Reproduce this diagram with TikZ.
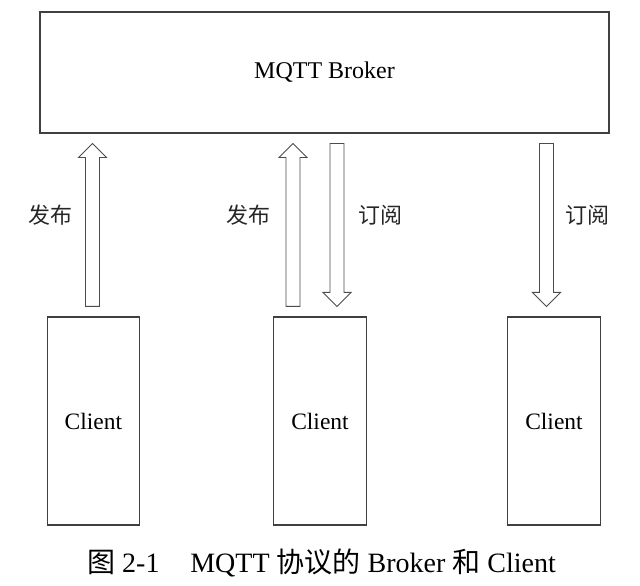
\documentclass[tikz,border=0pt]{standalone}
\usepackage{fontspec}
\setmainfont{Liberation Serif}
\newfontfamily\cjk{Noto Sans CJK SC}
\usetikzlibrary{calc, positioning}

\tikzset{
  box/.style={draw=black!75, line width=1.1pt, inner sep=0pt},
  client/.style={box, minimum width=92.5pt, minimum height=208pt, font=\fontsize{23.5}{27}\selectfont},
  hollow/.style={draw=black!70, line width=0.9pt, fill=white, line join=miter},
  lbl/.style={font=\cjk\fontsize{22}{26}\selectfont, text=black!85},
}

% hollow block arrow from #1 to #2 (vertical)
\newcommand{\hollowarrow}[2]{%
  \draw[hollow] let \p1=(#1), \p2=(#2), \n1={sign(\y2-\y1)*14} in
    ({\x1-7pt},\y1) -- ({\x1-7pt},{\y2-\n1}) -- ({\x1-14pt},{\y2-\n1})
    -- (\x1,\y2) -- ({\x1+14pt},{\y2-\n1}) -- ({\x1+7pt},{\y2-\n1})
    -- ({\x1+7pt},\y1) -- cycle;}

\begin{document}
\begin{tikzpicture}[x=1pt, y=1pt]
  \useasboundingbox (0,0) rectangle (640,586);
  % Broker
  \node[box, minimum width=569pt, minimum height=121pt,
        font=\fontsize{24}{28}\selectfont] (broker) at (324.5,513.5) {MQTT Broker};
  % Clients
  \node[client] (c1) at (93.3,165) {Client};
  \node[client] (c2) at (320,165) {Client};
  \node[client] (c3) at (554,165) {Client};
  % Arrow ends, 10 off the boxes
  \path (c1.north) ++(-0.8,10) coordinate (pub1a);
  \path (pub1a |- broker.south) ++(0,-10) coordinate (pub1b);
  \path (c2.north) ++(-27,10) coordinate (pub2a);
  \path (pub2a |- broker.south) ++(0,-10) coordinate (pub2b);
  \path (c2.north) ++(17,10) coordinate (sub2b);
  \path (sub2b |- broker.south) ++(0,-10) coordinate (sub2a);
  \path (c3.north) ++(-7.5,10) coordinate (sub3b);
  \path (sub3b |- broker.south) ++(0,-10) coordinate (sub3a);
  % Publish / subscribe
  \hollowarrow{pub1a}{pub1b}
  \hollowarrow{pub2a}{pub2b}
  \hollowarrow{sub2a}{sub2b}
  \hollowarrow{sub3a}{sub3b}
  \node[lbl] (l1) at (50,371) {发布};
  \node[lbl] (l2) at (248,371) {发布};
  \node[lbl] (l3) at (380,371) {订阅};
  \node[lbl] (l4) at (587,371) {订阅};
  % Caption
  \node[font=\fontsize{28}{32}\selectfont] (cap) at (321.5,23)
    {{\cjk 图} 2-1\hspace{1.1em}MQTT {\cjk 协议的} Broker {\cjk 和} Client};
\end{tikzpicture}
\end{document}
